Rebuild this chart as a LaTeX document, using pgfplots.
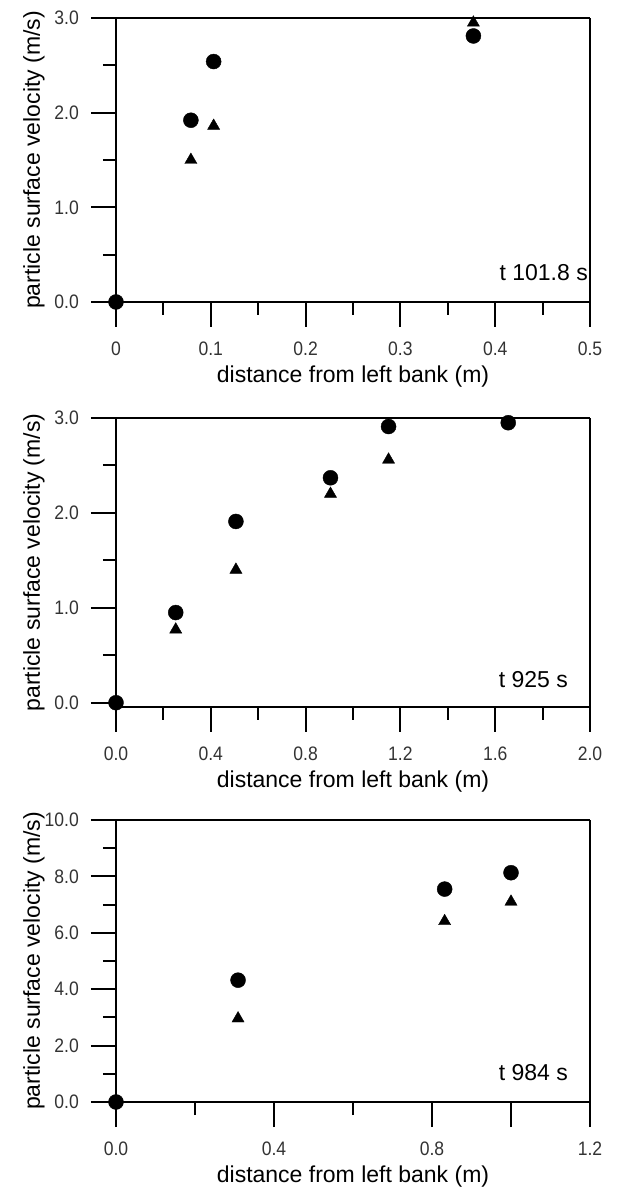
\documentclass[border=0pt]{standalone}
\usepackage{fontspec}
\setmainfont{Liberation Sans}
\newfontfamily\tickfont[FakeStretch=0.9]{Liberation Sans}
\usepackage{pgfplots}
\pgfplotsset{compat=1.18}

\pgfplotsset{
  panel/.style={
    scale only axis,
    width=474pt,
    axis line style={draw=none},
    xtick pos=bottom, ytick pos=left,
    tick align=outside,
    major tick length=25pt,
    minor tick length=13pt,
    every tick/.style={black, line width=2pt},
    minor tick num=1,
    clip=false,
    /pgf/number format/assume math mode=true,
    ticklabel style={font=\tickfont\fontsize{19.5}{20}\selectfont, text=black!80},
    xticklabel style={anchor=center, yshift=-22pt},
    yticklabel style={anchor=east, inner sep=0pt, xshift=-12pt},
    label style={font=\fontsize{23}{26}\selectfont},
    xlabel={distance from left bank (m)},
    ylabel={particle surface velocity (m/s)},
    xlabel style={at={(axis description cs:0.5,0)}, anchor=center, yshift=-75pt},
    ylabel style={at={(axis description cs:-0.173,0.5)}, anchor=center},
  },
  circ/.style={only marks, mark=*, mark size=7.5pt, black},
  tri/.style={only marks, mark=triangle*, mark size=7pt, black},
}
% box drawn by hand: heavy left, bottom and right, lighter top
\newcommand{\frameit}{%
  \draw[line width=2pt] (rel axis cs:0,1) -- (rel axis cs:0,0) -- (rel axis cs:1,0) -- (rel axis cs:1,1);
  \draw[line width=1.3pt] (rel axis cs:0,1) -- (rel axis cs:1,1);
}

\begin{document}
\begin{tikzpicture}
\useasboundingbox (0pt,0pt) rectangle (616pt,1188pt);

% t = 101.8 s
\begin{axis}[panel, at={(116pt,886pt)}, anchor=south west, height=284pt,
  xmin=0, xmax=0.5, ymin=0, ymax=3,
  xtick={0,0.1,0.2,0.3,0.4,0.5}, xticklabels={0,0.1,0.2,0.3,0.4,0.5},
  ytick={0,1,2,3}, yticklabels={0.0,1.0,2.0,3.0}]
  \frameit
  \addplot[tri] coordinates {(0,0) (0.079,1.50) (0.103,1.86) (0.377,2.95)};
  \addplot[circ] coordinates {(0,0) (0.079,1.92) (0.103,2.54) (0.377,2.81)};
  \node[anchor=east, inner sep=0pt, xshift=-2pt, yshift=29pt, font=\fontsize{23}{26}\selectfont]
    at (rel axis cs:1,0) {t 101.8 s};
\end{axis}

% t = 925 s
\begin{axis}[panel, at={(116pt,481pt)}, anchor=south west, height=289pt,
  xmin=0, xmax=2.0, ymin=-0.045, ymax=3,
  xtick={0,0.4,0.8,1.2,1.6,2.0}, xticklabels={0.0,0.4,0.8,1.2,1.6,2.0},
  ytick={0,1,2,3}, yticklabels={0.0,1.0,2.0,3.0},
  minor ytick={0.5,1.5,2.5}]
  \frameit
  \addplot[tri] coordinates {(0,0) (0.252,0.77) (0.506,1.40) (0.905,2.20) (1.150,2.56) (1.655,2.95)};
  \addplot[circ] coordinates {(0,0) (0.252,0.95) (0.506,1.91) (0.905,2.37) (1.150,2.91) (1.655,2.95)};
  \node[anchor=east, inner sep=0pt, xshift=-22pt, yshift=27pt, font=\fontsize{23}{26}\selectfont]
    at (rel axis cs:1,0) {t 925 s};
\end{axis}

% t = 984 s
\begin{axis}[panel, at={(116pt,86pt)}, anchor=south west, height=282pt,
  xmin=0, xmax=1.2, ymin=0, ymax=10,
  xtick={0,0.4,0.8,1.2}, xticklabels={0.0,0.4,0.8,1.2},
  extra x ticks={1.0}, extra x tick labels={},
  extra x tick style={major tick length=25pt},
  ytick={0,2,4,6,8,10}, yticklabels={0.0,2.0,4.0,6.0,8.0,10.0}]
  \frameit
  \addplot[tri] coordinates {(0,0) (0.309,2.96) (0.832,6.41) (1.000,7.10)};
  \addplot[circ] coordinates {(0,0) (0.309,4.32) (0.832,7.55) (1.000,8.13)};
  \node[anchor=east, inner sep=0pt, xshift=-22pt, yshift=29pt, font=\fontsize{23}{26}\selectfont]
    at (rel axis cs:1,0) {t 984 s};
\end{axis}
\end{tikzpicture}
\end{document}
